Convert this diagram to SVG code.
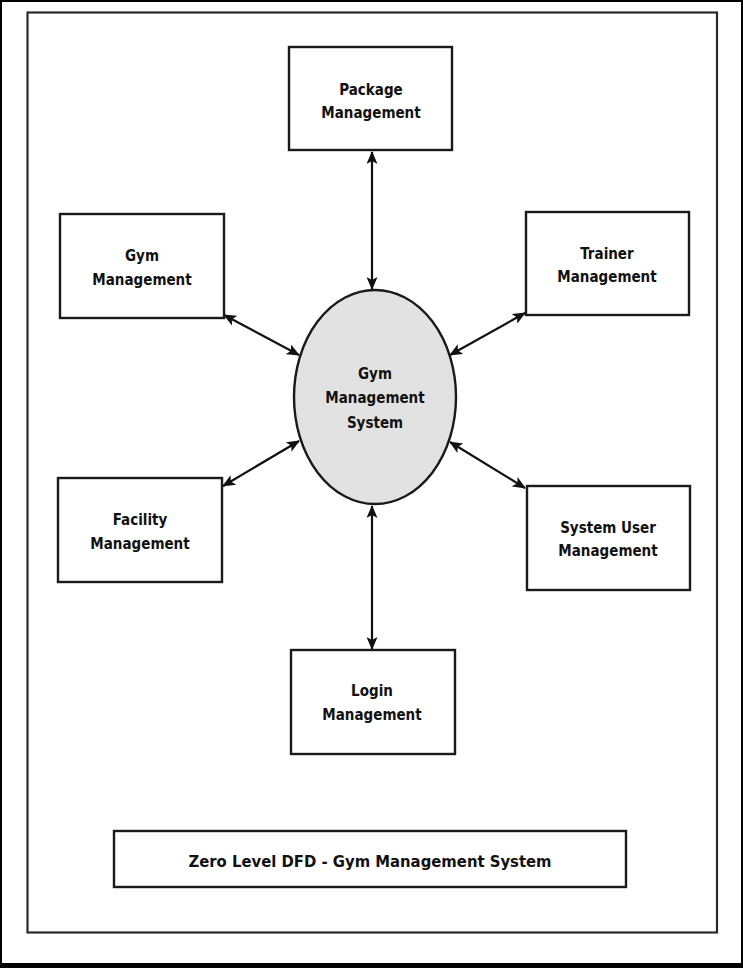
<svg xmlns="http://www.w3.org/2000/svg" width="743" height="968" viewBox="0 0 743 968">
<defs>
<style>
.box{fill:#fff;stroke:#1a1a1a;stroke-width:2.4}
.lbl{font-family:"DejaVu Sans Condensed","DejaVu Sans",sans-serif;font-weight:bold;font-size:15px;fill:#111;text-anchor:middle}
.con{stroke:#111;stroke-width:2.2;fill:none;marker-start:url(#ah);marker-end:url(#ah)}
</style>
<marker id="ah" viewBox="0 0 13 11" refX="12" refY="5.5" markerWidth="13" markerHeight="11" markerUnits="userSpaceOnUse" orient="auto-start-reverse">
<path d="M0,0 L13,5.5 L0,11 L3,5.5 Z" fill="#111"/>
</marker>
</defs>
<rect x="0" y="0" width="743" height="968" fill="#fff"/>
<rect x="1" y="1" width="741" height="965" fill="none" stroke="#000" stroke-width="2"/>
<rect x="0" y="963" width="743" height="5" fill="#000"/>
<rect x="27.5" y="12.5" width="689.5" height="920" fill="none" stroke="#2a2a2a" stroke-width="2.2"/>
<g id="connectors">
<line class="con" x1="372" y1="152" x2="372" y2="289"/>
<line class="con" x1="372" y1="506" x2="372" y2="649"/>
<line class="con" x1="224" y1="315" x2="299" y2="355"/>
<line class="con" x1="525" y1="313" x2="450" y2="355"/>
<line class="con" x1="223" y1="486" x2="299" y2="441"/>
<line class="con" x1="525" y1="488" x2="450" y2="442"/>
</g>
<g id="package">
<rect class="box" x="289" y="47" width="163" height="103"/>
<text class="lbl" x="371" y="95">Package</text>
<text class="lbl" x="371" y="118">Management</text>
</g>
<g id="gym">
<rect class="box" x="60" y="214" width="164" height="104"/>
<text class="lbl" x="142" y="261">Gym</text>
<text class="lbl" x="142" y="285">Management</text>
</g>
<g id="trainer">
<rect class="box" x="526" y="212" width="163" height="103"/>
<text class="lbl" x="607" y="259">Trainer</text>
<text class="lbl" x="607" y="282">Management</text>
</g>
<g id="system">
<ellipse cx="375" cy="397" rx="81" ry="107" fill="#e2e2e2" stroke="#1a1a1a" stroke-width="2.4"/>
<text class="lbl" x="375" y="379">Gym</text>
<text class="lbl" x="375" y="403">Management</text>
<text class="lbl" x="375" y="428">System</text>
</g>
<g id="facility">
<rect class="box" x="58" y="478" width="164" height="104"/>
<text class="lbl" x="140" y="525">Facility</text>
<text class="lbl" x="140" y="549">Management</text>
</g>
<g id="sysuser">
<rect class="box" x="527" y="486" width="163" height="104"/>
<text class="lbl" x="608" y="533">System User</text>
<text class="lbl" x="608" y="556">Management</text>
</g>
<g id="login">
<rect class="box" x="291" y="650" width="164" height="104"/>
<text class="lbl" x="372" y="696">Login</text>
<text class="lbl" x="372" y="720">Management</text>
</g>
<g id="title">
<rect class="box" x="114" y="831" width="512" height="56"/>
<text class="lbl" x="370" y="867" style="font-size:16.5px">Zero Level DFD - Gym Management System</text>
</g>
</svg>
